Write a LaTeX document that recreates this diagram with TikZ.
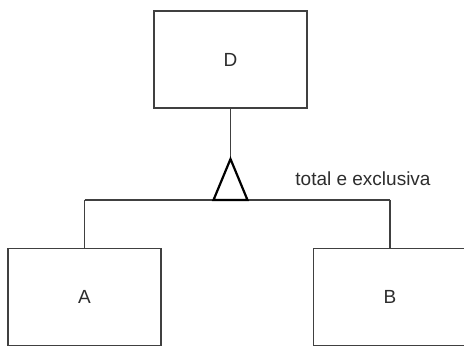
\documentclass[tikz,border=0pt]{standalone}
\usepackage{fontspec}
\setmainfont{Liberation Sans}
\usetikzlibrary{positioning, calc}
\definecolor{LineColor}{RGB}{64,64,64}
\definecolor{TextColor}{RGB}{45,45,45}
\tikzset{
  entity/.style={draw=LineColor, line width=1.5pt, fill=white, minimum width=153pt, minimum height=97pt, inner sep=0pt, text=TextColor, font=\fontsize{19}{22}\selectfont, text depth=-8pt},
  link/.style={draw=LineColor, line width=1.3pt},
}

\begin{document}
\begin{tikzpicture}[x=1pt, y=-1pt]
  \useasboundingbox (0,0) rectangle (464,347);
  \begin{scope}
    \clip (0,0) rectangle (464,347);
    % entities
    \node[entity] (D) at (230.5,59.5) {D};
    \node[entity] (A) at (84.5,297) {A};
    \node[entity] (B) at (390,297) {B};
    % specialization
    \coordinate (apex) at (230.5,159);
    \coordinate (jA) at (84.5,200);
    \coordinate (jB) at (390,200);
    \draw[link] (D.south) -- (apex);
    \draw[link] (jA) -- (jB);
    \draw[link] (jA) -- (A.north);
    \draw[link] (jB) -- (B.north);
    \draw[black, line width=2.2pt, line join=miter, fill=white] (apex) -- ++(-17,41) -- ++(34,0) -- cycle;
    \node[text=TextColor, font=\fontsize{19}{22}\selectfont, inner sep=0pt] (lbl) at (363,179) {total e exclusiva};
  \end{scope}
\end{tikzpicture}
\end{document}
